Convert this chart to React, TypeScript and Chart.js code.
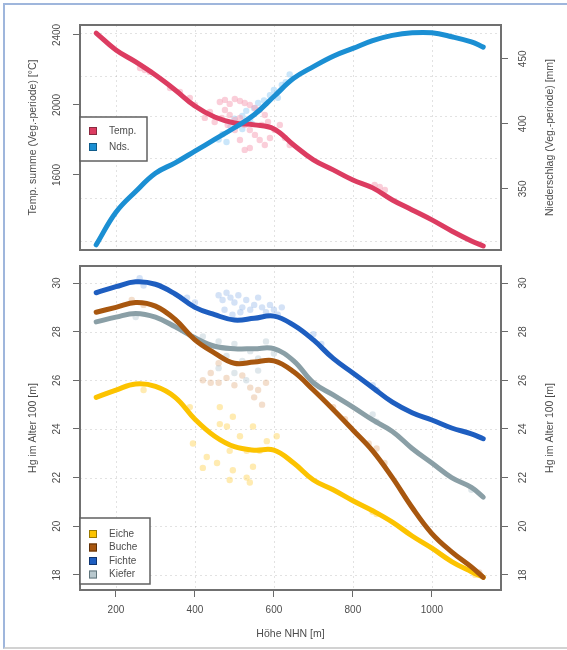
import React, { useEffect, useRef } from 'react';
import { Chart, registerables } from 'chart.js';

Chart.register(...registerables);

// ---------- data ----------
const ALTITUDE = [150, 200, 250, 300, 350, 400, 450, 500, 550, 600, 650, 700, 750, 800, 850, 900, 950, 1000, 1050, 1100, 1130];

const TEMP_SUM = [2411, 2314, 2246, 2171, 2086, 1994, 1931, 1897, 1886, 1863, 1771, 1686, 1629, 1571, 1526, 1457, 1400, 1343, 1280, 1223, 1194];
const PRECIP = [307, 332, 348, 362, 370, 379, 388, 397, 407, 421, 435, 444, 452, 458, 464, 468, 470, 470, 467, 463, 459];

const EICHE = [25.3, 25.6, 25.85, 25.75, 25.3, 24.4, 23.7, 23.27, 23.13, 23.13, 22.6, 21.9, 21.5, 21.05, 20.64, 20.17, 19.6, 19.1, 18.55, 18.13, 17.9];
const BUCHE = [28.8, 29.0, 29.2, 29.05, 28.5, 27.66, 27.12, 26.7, 26.75, 26.8, 26.35, 25.6, 24.8, 23.96, 23.1, 22.0, 20.77, 19.7, 18.95, 18.33, 17.9];
const FICHTE = [29.6, 29.85, 30.05, 29.95, 29.55, 29.0, 28.7, 28.48, 28.55, 28.64, 28.27, 27.66, 26.9, 26.3, 25.7, 25.1, 24.67, 24.37, 24.04, 23.8, 23.6];
const KIEFER = [28.4, 28.6, 28.75, 28.6, 28.2, 27.75, 27.4, 27.3, 27.3, 27.3, 26.8, 25.9, 25.4, 24.9, 24.37, 23.9, 23.2, 22.6, 22.0, 21.6, 21.2];

const TEMP_POINTS: [number, number][] = [
  [261, 2211], [273, 2200], [286, 2189], [337, 2097], [362, 2074], [387, 2040], [400, 2000],
  [463, 2017], [476, 2029], [488, 2006], [501, 2034], [514, 2023], [526, 2011], [539, 2000],
  [552, 1983], [564, 1971], [577, 1943], [476, 1971], [488, 1943], [501, 1914], [514, 1926],
  [526, 1886], [539, 1857], [552, 1829], [564, 1800], [577, 1771], [590, 1811], [602, 1857],
  [615, 1886], [514, 1800], [526, 1743], [539, 1754], [501, 1857], [483, 1886], [468, 1926],
  [569, 1886], [585, 1903], [628, 1811], [640, 1771], [438, 1960], [425, 1926], [450, 1903],
  [855, 1543], [868, 1531], [881, 1514],
];
const PRECIP_POINTS: [number, number][] = [
  [470, 392], [490, 398], [500, 404], [510, 400], [520, 406], [530, 410], [540, 404], [550, 412],
  [560, 416], [575, 418], [590, 422], [600, 426], [610, 420], [620, 430], [630, 432], [520, 396],
  [545, 400], [480, 386], [460, 388], [640, 438],
];
const FICHTE_POINTS: [number, number][] = [
  [460, 29.5], [470, 29.3], [480, 29.6], [490, 29.4], [500, 29.2], [510, 29.5], [520, 29.0], [530, 29.3],
  [540, 28.9], [550, 29.1], [560, 29.4], [570, 29.0], [580, 28.8], [590, 29.1], [600, 28.9], [610, 28.7],
  [620, 29.0], [475, 28.9], [495, 28.7], [515, 28.8], [400, 29.2], [380, 29.4], [260, 30.2], [270, 29.9],
  [850, 25.8], [860, 25.6], [700, 27.9], [720, 27.5],
];
const KIEFER_POINTS: [number, number][] = [
  [420, 27.8], [440, 27.3], [460, 27.6], [480, 27.0], [500, 27.5], [520, 26.8], [540, 27.2], [560, 26.9],
  [580, 27.6], [600, 27.1], [460, 26.5], [500, 26.3], [530, 26.0], [560, 26.4], [250, 28.6], [850, 24.6],
  [860, 24.3], [1100, 21.5],
];
const BUCHE_POINTS: [number, number][] = [
  [420, 26.0], [440, 26.3], [460, 25.9], [480, 26.1], [500, 25.8], [520, 26.2], [540, 25.7], [560, 25.6],
  [580, 25.9], [550, 25.3], [570, 25.0], [440, 25.9], [460, 26.7], [240, 29.3], [270, 29.1], [750, 24.9],
  [780, 24.4], [840, 23.4], [860, 23.2], [880, 22.6], [1120, 18.1],
];
const EICHE_POINTS: [number, number][] = [
  [463, 24.9], [496, 24.5], [481, 24.1], [430, 22.85], [420, 22.4], [456, 22.6], [496, 22.3], [539, 21.8],
  [547, 22.45], [564, 23.1], [582, 23.5], [607, 23.7], [395, 23.4], [387, 24.9], [514, 23.7], [531, 23.1],
  [488, 23.1], [463, 24.2], [547, 24.1], [531, 22.0], [488, 21.9], [270, 25.6], [850, 20.6], [860, 20.5],
  [1110, 18.0],
];

const X_TICKS = [200, 400, 600, 800, 1000];
const TEMP_TICKS = [1600, 2000, 2400];
const PRECIP_TICKS = [350, 400, 450];
const HG_TICKS = [18, 20, 22, 24, 26, 28, 30];
const TOP_GRID = [310, 343, 374, 406, 437, 470];

const X_RANGE = [109, 1175];
const TEMP_RANGE = [1171, 2457];
const PRECIP_RANGE = [303, 476];
const HG_RANGE = [17.38, 30.7];

// ---------- helpers ----------
const FONT = '"Liberation Sans", Arial, sans-serif';
const TEXT = '#4d4d4d';

const series = (xs: number[], ys: number[]) => xs.map((x, i) => ({ x, y: ys[i] }));
const pts = (arr: [number, number][]) => arr.map(([x, y]) => ({ x, y }));

type AxisLabel = { axis: string; ticks: number[]; side: 'left' | 'right'; title: string };
type LegendItem = { label: string; color: string; edge: string };
type FrameCfg = {
  gridX: number[];
  gridAxis: string;
  gridY: number[];
  labels: AxisLabel[];
  legend: { items: LegendItem[]; top: number; width: number; height: number; firstRow: number; rowGap: number };
};

function framePlugin(cfg: FrameCfg) {
  return {
    id: 'frame',
    beforeDatasetsDraw(chart: any) {
      const { ctx, chartArea: a } = chart;
      ctx.save();
      ctx.strokeStyle = 'rgba(150,150,150,0.28)';
      ctx.lineWidth = 1;
      ctx.setLineDash([2, 3]);
      const xs = chart.scales.x;
      cfg.gridX.forEach((v) => {
        const p = Math.round(xs.getPixelForValue(v)) + 0.5;
        ctx.beginPath();
        ctx.moveTo(p, a.top);
        ctx.lineTo(p, a.bottom);
        ctx.stroke();
      });
      const ys = chart.scales[cfg.gridAxis];
      cfg.gridY.forEach((v) => {
        const p = Math.round(ys.getPixelForValue(v)) + 0.5;
        ctx.beginPath();
        ctx.moveTo(a.left, p);
        ctx.lineTo(a.right, p);
        ctx.stroke();
      });
      ctx.restore();
    },
    afterDatasetsDraw(chart: any) {
      const { ctx, chartArea: a } = chart;
      ctx.save();
      // plot box
      ctx.strokeStyle = '#707070';
      ctx.lineWidth = 2;
      ctx.strokeRect(a.left, a.top, a.right - a.left, a.bottom - a.top);

      // legend
      const lg = cfg.legend;
      const lx = a.left;
      const ly = a.top + lg.top;
      ctx.fillStyle = '#ffffff';
      ctx.fillRect(lx, ly, lg.width, lg.height);
      ctx.strokeStyle = '#606060';
      ctx.lineWidth = 1.5;
      ctx.strokeRect(lx, ly, lg.width, lg.height);
      ctx.font = `10px ${FONT}`;
      ctx.textAlign = 'left';
      ctx.textBaseline = 'middle';
      lg.items.forEach((it, i) => {
        const cy = ly + lg.firstRow + i * lg.rowGap;
        ctx.fillStyle = it.color;
        ctx.fillRect(lx + 9, cy - 4, 8, 8);
        ctx.strokeStyle = it.edge;
        ctx.lineWidth = 1;
        ctx.strokeRect(lx + 9.5, cy - 3.5, 7, 7);
        ctx.fillStyle = TEXT;
        ctx.fillText(it.label, lx + 29, cy);
      });

      // y tick labels and titles (rotated, reading upward)
      const midY = (a.top + a.bottom) / 2;
      cfg.labels.forEach((l) => {
        const sc = chart.scales[l.axis];
        const tx = l.side === 'left' ? a.left - 23 : a.right + 22;
        const ttx = l.side === 'left' ? a.left - 47 : a.right + 49;
        ctx.fillStyle = TEXT;
        ctx.textAlign = 'center';
        ctx.textBaseline = 'middle';
        ctx.font = `10px ${FONT}`;
        l.ticks.forEach((v) => {
          const py = sc.getPixelForValue(v);
          ctx.save();
          ctx.translate(tx, py);
          ctx.rotate(-Math.PI / 2);
          ctx.fillText(String(v), 0, 0);
          ctx.restore();
        });
        ctx.font = `10.5px ${FONT}`;
        ctx.save();
        ctx.translate(ttx, midY);
        ctx.rotate(-Math.PI / 2);
        ctx.fillText(l.title, 0, 0);
        ctx.restore();
      });
      ctx.restore();
    },
  };
}

const yAxis = (position: 'left' | 'right', range: number[], ticks: number[], width: number) => ({
  type: 'linear',
  position,
  min: range[0],
  max: range[1],
  afterBuildTicks: (s: any) => {
    s.ticks = ticks.map((v) => ({ value: v }));
  },
  ticks: { display: false },
  grid: { drawOnChartArea: false, tickLength: 7, tickColor: '#6a6a6a', color: '#6a6a6a', tickWidth: 1 },
  border: { display: false },
  afterFit: (s: any) => {
    s.width = width;
  },
});

const lineDs = (label: string, ys: number[], color: string, yAxisID: string, order: number) => ({
  type: 'line',
  label,
  data: series(ALTITUDE, ys),
  yAxisID,
  borderColor: color,
  borderWidth: 5,
  pointRadius: 0,
  tension: 0.4,
  fill: false,
  borderCapStyle: 'round',
  order,
});

const scatterDs = (label: string, arr: [number, number][], color: string, yAxisID: string) => ({
  type: 'scatter',
  label,
  data: pts(arr),
  yAxisID,
  backgroundColor: color,
  borderWidth: 0,
  pointRadius: 3.2,
  order: 10,
});

const RED = '#dc3c61';
const BLUE = '#1b8fd3';
const C_EICHE = '#fcc300';
const C_BUCHE = '#a8570f';
const C_FICHTE = '#1e5ec0';
const C_KIEFER = '#8a9fa6';

function topConfig(): any {
  return {
    type: 'line',
    data: {
      datasets: [
        lineDs('Nds.', PRECIP, BLUE, 'y1', 0),
        lineDs('Temp.', TEMP_SUM, RED, 'y', 1),
        scatterDs('Temp. Punkte', TEMP_POINTS, 'rgba(245,165,185,0.55)', 'y'),
        scatterDs('Nds. Punkte', PRECIP_POINTS, 'rgba(150,205,245,0.5)', 'y1'),
      ],
    },
    options: {
      animation: false,
      responsive: false,
      events: [],
      layout: { padding: { top: 25, bottom: 8, left: 0, right: 0 } },
      plugins: { legend: { display: false }, tooltip: { enabled: false } },
      scales: {
        x: { type: 'linear', display: false, min: X_RANGE[0], max: X_RANGE[1] },
        y: yAxis('left', TEMP_RANGE, TEMP_TICKS, 80),
        y1: yAxis('right', PRECIP_RANGE, PRECIP_TICKS, 66),
      },
    },
    plugins: [
      framePlugin({
        gridX: X_TICKS,
        gridAxis: 'y1',
        gridY: TOP_GRID,
        labels: [
          { axis: 'y', ticks: TEMP_TICKS, side: 'left', title: 'Temp. summe (Veg.-periode) [°C]' },
          { axis: 'y1', ticks: PRECIP_TICKS, side: 'right', title: 'Niederschlag (Veg.-periode) [mm]' },
        ],
        legend: {
          items: [
            { label: 'Temp.', color: RED, edge: '#8a2a40' },
            { label: 'Nds.', color: BLUE, edge: '#105c8a' },
          ],
          top: 92,
          width: 67,
          height: 44,
          firstRow: 14,
          rowGap: 16,
        },
      }),
    ],
  };
}

function bottomConfig(): any {
  return {
    type: 'line',
    data: {
      datasets: [
        lineDs('Buche', BUCHE, C_BUCHE, 'y', 0),
        lineDs('Kiefer', KIEFER, C_KIEFER, 'y', 1),
        lineDs('Fichte', FICHTE, C_FICHTE, 'y', 2),
        lineDs('Eiche', EICHE, C_EICHE, 'y', 3),
        scatterDs('Fichte Punkte', FICHTE_POINTS, 'rgba(160,190,235,0.45)', 'y'),
        scatterDs('Kiefer Punkte', KIEFER_POINTS, 'rgba(175,195,205,0.4)', 'y'),
        scatterDs('Buche Punkte', BUCHE_POINTS, 'rgba(220,160,110,0.35)', 'y'),
        scatterDs('Eiche Punkte', EICHE_POINTS, 'rgba(255,215,100,0.5)', 'y'),
      ],
    },
    options: {
      animation: false,
      responsive: false,
      events: [],
      layout: { padding: { top: 11, bottom: 8, left: 0, right: 0 } },
      plugins: { legend: { display: false }, tooltip: { enabled: false } },
      scales: {
        x: {
          type: 'linear',
          min: X_RANGE[0],
          max: X_RANGE[1],
          afterBuildTicks: (s: any) => {
            s.ticks = X_TICKS.map((v) => ({ value: v }));
          },
          ticks: {
            color: TEXT,
            font: { family: FONT, size: 10 },
            padding: 7,
            maxRotation: 0,
            callback: (v: any) => String(v),
          },
          grid: { drawOnChartArea: false, tickLength: 7, tickColor: '#6a6a6a', color: '#6a6a6a', tickWidth: 1 },
          border: { display: false },
          title: {
            display: true,
            text: 'Höhe NHN [m]',
            color: TEXT,
            font: { family: FONT, size: 10.5 },
            padding: { top: 2, bottom: 2 },
          },
          afterFit: (s: any) => {
            s.height = 52;
          },
        },
        y: yAxis('left', HG_RANGE, HG_TICKS, 80),
        y2: yAxis('right', HG_RANGE, HG_TICKS, 66),
      },
    },
    plugins: [
      framePlugin({
        gridX: X_TICKS,
        gridAxis: 'y',
        gridY: HG_TICKS,
        labels: [
          { axis: 'y', ticks: HG_TICKS, side: 'left', title: 'Hg im Alter 100 [m]' },
          { axis: 'y2', ticks: HG_TICKS, side: 'right', title: 'Hg im Alter 100 [m]' },
        ],
        legend: {
          items: [
            { label: 'Eiche', color: C_EICHE, edge: '#9a7a00' },
            { label: 'Buche', color: C_BUCHE, edge: '#5e3008' },
            { label: 'Fichte', color: C_FICHTE, edge: '#0f3570' },
            { label: 'Kiefer', color: '#b8c8ce', edge: '#60757c' },
          ],
          top: 252,
          width: 70,
          height: 66,
          firstRow: 16,
          rowGap: 13.5,
        },
      }),
    ],
  };
}

function ChartCanvas({ make, width, height, top }: { make: () => any; width: number; height: number; top: number }) {
  const ref = useRef<HTMLCanvasElement>(null);
  useEffect(() => {
    const chart = new Chart(ref.current as HTMLCanvasElement, make());
    return () => chart.destroy();
  }, [make]);
  return (
    <canvas
      ref={ref}
      width={width}
      height={height}
      style={{ position: 'absolute', left: 0, top, width, height, display: 'block' }}
    />
  );
}

export default function App() {
  return (
    <div
      style={{
        position: 'absolute',
        left: 0,
        top: 0,
        width: 567,
        height: 650,
        overflow: 'hidden',
        background: '#ffffff',
      }}
    >
      <div
        style={{
          position: 'absolute',
          left: 3,
          top: 3,
          width: 600,
          height: 642,
          borderTop: '2px solid #9fb6dc',
          borderLeft: '2px solid #9fb6dc',
          borderBottom: '2px solid #d2d2d2',
        }}
      />
      <ChartCanvas make={topConfig} width={567} height={258} top={0} />
      <ChartCanvas make={bottomConfig} width={567} height={395} top={255} />
    </div>
  );
}
